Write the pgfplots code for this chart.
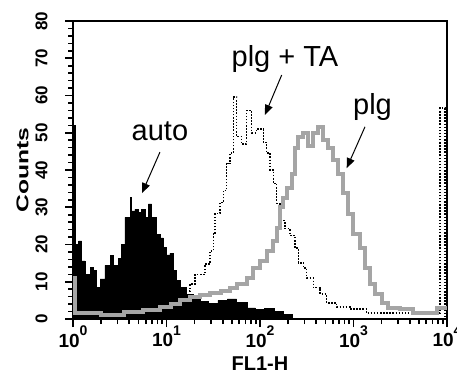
\documentclass[border=0pt]{standalone}
\usepackage{fontspec}
\setmainfont{Liberation Sans}
\usepackage{graphicx}
\usepackage{pgfplots}
\pgfplotsset{compat=1.18}
\usetikzlibrary{arrows.meta}
\definecolor{plggray}{RGB}{165,165,165}
\newcommand\xtl[1]{10\raisebox{0.62em}{\fontsize{14}{14}\selectfont #1}}

\pgfplotstableread{
lx y
0.000 52
0.025 20
0.060 21
0.093 15.6
0.128 12
0.182 13.8
0.217 13
0.253 8.4
0.289 10.8
0.342 14.4
0.396 17.1
0.431 14.4
0.485 16.2
0.520 20
0.556 27.3
0.610 32.6
0.627 29
0.663 29.5
0.699 28.6
0.734 29.5
0.770 27.3
0.806 30.9
0.842 27.3
0.895 22.8
0.930 21.8
0.966 19.2
1.000 17.2
1.037 17.7
1.073 13
1.109 10.3
1.144 8.4
1.216 6.6
1.287 5.7
1.358 4.8
1.450 4.2
1.550 5.0
1.650 5.4
1.750 4.5
1.860 3.0
1.950 2.5
2.050 2.8
2.150 2.0
2.250 1.3
2.350 0
4.000 0
}\autodata

\pgfplotstableread{
lx y
0.000 11
0.025 1.5
0.300 1.2
0.550 1.8
0.750 2.5
0.930 3.2
1.050 4.0
1.140 5.0
1.250 5.8
1.360 6.5
1.470 7.0
1.580 7.5
1.680 8.4
1.750 9.4
1.860 11.0
1.930 13.7
2.000 15.6
2.070 18.3
2.140 21.0
2.178 24.5
2.214 30
2.250 32.6
2.285 35.3
2.340 39
2.374 46
2.410 48.8
2.463 49.9
2.517 46.5
2.570 50
2.624 51.5
2.677 48
2.731 45.8
2.784 42.6
2.838 39
2.891 33.7
2.945 28.3
2.998 22.9
3.070 19.1
3.124 13.7
3.178 9.4
3.230 6.7
3.300 4.3
3.370 3.0
3.500 2.7
3.640 1.6
3.890 3.0
4.000 3.0
}\plgdata

\pgfplotstableread{
lx y
1.100 6
1.200 7.5
1.251 9.4
1.305 12
1.412 14.8
1.465 18.3
1.500 22.9
1.519 28.3
1.572 31.3
1.608 34.5
1.643 41.8
1.679 44.5
1.715 59.6
1.750 49
1.800 47
1.857 56
1.910 50
1.960 51
2.036 47.4
2.071 44.5
2.107 40
2.142 36.4
2.178 31
2.214 26.4
2.267 24.3
2.321 22.4
2.374 19.1
2.410 15.1
2.463 13.7
2.499 11
2.570 8.4
2.642 6.7
2.712 4.3
2.820 3.2
2.963 2.7
3.140 1.6
3.925 56.6
3.978 0
4.000 0
}\tadata

\begin{document}
\begin{tikzpicture}
\begin{axis}[
  scale only axis, width=374pt, height=298pt,
  xmin=0, xmax=4, ymin=0, ymax=80,
  axis line style={line width=1.6pt},
  tick pos=left, tick align=outside,
  major tick length=8pt, minor tick length=5pt,
  tick style={line width=1.6pt, black},
  xtick={0,1,2,3,4},
  xticklabels={\xtl{0},\xtl{1},\xtl{2},\xtl{3},\xtl{4}},
  minor xtick={0.301,0.477,0.602,0.699,0.778,0.845,0.903,0.954,
    1.301,1.477,1.602,1.699,1.778,1.845,1.903,1.954,
    2.301,2.477,2.602,2.699,2.778,2.845,2.903,2.954,
    3.301,3.477,3.602,3.699,3.778,3.845,3.903,3.954},
  ytick={0,10,...,80}, minor y tick num=4,
  /pgf/number format/assume math mode=true,
  yticklabel shift=14pt,
  xticklabel shift=-5pt,
  yticklabel style={rotate=90, anchor=south, font=\bfseries\fontsize{17}{17}\selectfont},
  xticklabel style={font=\bfseries\fontsize{19}{19}\selectfont, anchor=north},
  xlabel={FL1-H}, ylabel={\scalebox{1.45}[1]{Counts}},
  xlabel style={font=\bfseries\fontsize{20}{20}\selectfont, at={(rel axis cs:0.5,0)}, anchor=base, yshift=-51pt},
  ylabel style={font=\bfseries\fontsize{17}{17}\selectfont},
]
\coordinate (sw) at (rel axis cs:0,0);
\addplot[const plot, fill=black, draw=black, line width=0.5pt] table[x=lx,y=y] {\autodata} \closedcycle;
\addplot[const plot, black, line width=1.5pt, dash pattern=on 1.5pt off 1.6pt] table[x=lx,y=y] {\tadata};
\addplot[const plot, plggray, line width=4pt] table[x=lx,y=y] {\plgdata};

\node[font=\fontsize{29}{29}\selectfont, anchor=base] at (axis cs:0.93,48.05) {auto};
\node[font=\fontsize{29}{29}\selectfont, anchor=base] at (axis cs:2.267,67.7) {plg + TA};
\node[font=\fontsize{29}{29}\selectfont, anchor=base] at (axis cs:3.203,54.8) {plg};
\draw[line width=1pt, -{Triangle[length=10pt,width=8pt]}] (axis cs:0.93,44.8) -- (axis cs:0.738,33.8);
\draw[line width=1pt, -{Triangle[length=10pt,width=8pt]}] (axis cs:2.232,65.5) -- (axis cs:2.053,54.8);
\draw[line width=1pt, -{Triangle[length=10pt,width=8pt]}] (axis cs:3.123,51.6) -- (axis cs:2.927,40.5);
\end{axis}
\pgfresetboundingbox
\path[use as bounding box] ([xshift=-73pt,yshift=-54pt]sw) rectangle ++(457pt,373pt);
\end{tikzpicture}
\end{document}
